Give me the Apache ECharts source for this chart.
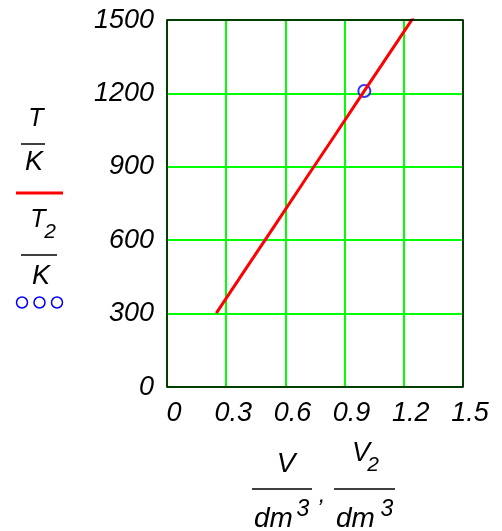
<!DOCTYPE html>
<html>
<head>
<meta charset="utf-8">
<script src="https://cdn.jsdelivr.net/npm/echarts@6/dist/echarts.min.js"></script>
<style>
  html, body { margin: 0; padding: 0; background: #fff; }
  #chart { width: 502px; height: 531px; }
</style>
</head>
<body>
<div id="chart"></div>
<script>
// Temperature of the gas against its volume (T/K vs V/dm^3)
const volumes = [0.25, 0.40, 0.55, 0.70, 0.85, 1.00, 1.15, 1.25];
const temps   = [302, 484, 665, 847, 1028, 1210, 1391, 1512];

// The marked state (V2, T2)
const pointV = [1.0];
const pointT = [1210];

const xTickLabels = ['0', '0.3', '0.6', '0.9', '1.2', '1.5'];
const yTickLabels = ['0', '300', '600', '900', '1200', '1500'];

const FONT = "'Liberation Sans', Arial, sans-serif";

const chart = echarts.init(document.getElementById('chart'), null, { renderer: 'canvas' });

function txt(text, x, y, size, align) {
  return {
    type: 'text', x: x, y: y, silent: true,
    style: {
      text: text, fill: '#000', fontFamily: FONT, fontStyle: 'italic',
      fontSize: size, align: align || 'center', verticalAlign: 'middle'
    }
  };
}
function bar(x1, x2, y) {
  return { type: 'line', silent: true, shape: { x1: x1, y1: y, x2: x2, y2: y },
           style: { stroke: '#000', lineWidth: 1.5 } };
}
function ring(cx, cy) {
  return { type: 'circle', silent: true, shape: { cx: cx, cy: cy, r: 5.5 },
           style: { fill: 'none', stroke: '#0000ff', lineWidth: 1.5 } };
}

chart.setOption({
  animation: false,
  backgroundColor: '#fff',
  grid: { left: 167, right: 39, top: 20, bottom: 144, show: false },
  xAxis: {
    type: 'value', min: 0, max: 1.5, interval: 0.3,
    axisLine: { show: false }, axisTick: { show: false },
    splitLine: { show: true, lineStyle: { color: '#00ff00', width: 2 } },
    axisLabel: {
      margin: 13, fontSize: 27, fontStyle: 'italic', fontFamily: FONT, color: '#000',
      padding: [0, 0, 0, 14],
      formatter: (v, i) => xTickLabels[i]
    }
  },
  yAxis: {
    type: 'value', min: 0, max: 1500, interval: 300,
    axisLine: { show: false }, axisTick: { show: false },
    splitLine: { show: true, lineStyle: { color: '#00ff00', width: 2 } },
    axisLabel: {
      margin: 13, fontSize: 27, fontStyle: 'italic', fontFamily: FONT, color: '#000',
      padding: [8, 0, 0, 0],
      formatter: (v, i) => yTickLabels[i]
    }
  },
  series: [
    {
      type: 'line', data: volumes.map((v, i) => [v, temps[i]]),
      showSymbol: false, clip: true,
      lineStyle: { color: '#ff0000', width: 3 }
    },
    {
      type: 'scatter', data: pointV.map((v, i) => [v, pointT[i]]),
      symbol: 'emptyCircle', symbolSize: 12,
      itemStyle: { color: '#0000ff', borderColor: '#0000ff', borderWidth: 1.5 }
    }
  ],
  graphic: [
    // plot frame
    { type: 'rect', silent: true, z: 100,
      shape: { x: 167, y: 20, width: 296, height: 367 },
      style: { fill: 'none', stroke: '#000', lineWidth: 1.5 } },
    // y-axis legend: T/K (red line), T2/K (circles)
    txt('T', 36, 119, 25),
    bar(21, 45, 144),
    txt('K', 34, 162, 27),
    { type: 'line', silent: true, shape: { x1: 16, y1: 193, x2: 63, y2: 193 },
      style: { stroke: '#ff0000', lineWidth: 3 } },
    txt('T', 38, 220, 25),
    txt('2', 50, 232, 21),
    bar(21, 57, 255),
    txt('K', 41, 276, 27),
    ring(22, 302.5), ring(39.5, 302.5), ring(57, 302.5),
    // x-axis title: V/dm^3 , V2/dm^3
    txt('V', 286, 464, 28),
    bar(252, 312, 489),
    txt('dm', 254, 519, 28, 'left'),
    txt('3', 303, 510, 23),
    txt(',', 322, 495, 24),
    txt('V', 361, 453, 27),
    txt('2', 373, 465, 21),
    bar(334, 395, 489),
    txt('dm', 336, 519, 28, 'left'),
    txt('3', 387, 510, 23)
  ]
});
</script>
</body>
</html>
